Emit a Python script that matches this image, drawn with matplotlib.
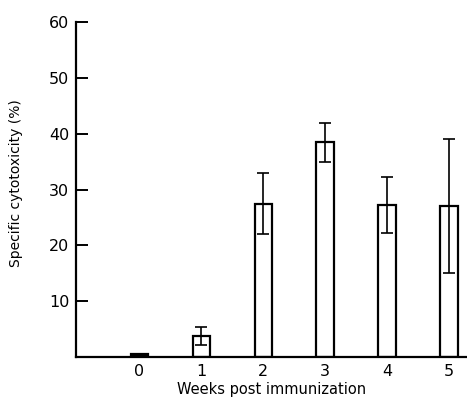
import matplotlib.pyplot as plt

weeks = [0, 1, 2, 3, 4, 5]
cytotoxicity = [0.5, 3.8, 27.5, 38.5, 27.2, 27.1]
errors = [0.0, 1.6, 5.5, 3.5, 5.0, 12.0]
ytick_values = [10, 20, 30, 40, 50, 60]

plt.rcParams["font.family"] = ["DejaVu Sans"]

fig = plt.figure(figsize=(4.67, 4.03), dpi=100)
ax = fig.add_axes([0.163, 0.114, 0.837, 0.831])

# the week-0 bar is so small it prints as a solid blob
fills = ["black"] + ["white"] * (len(weeks) - 1)
ax.bar(weeks, cytotoxicity, width=0.28, color=fills,
       edgecolor="black", linewidth=1.6, zorder=2)
ax.errorbar(weeks[1:], cytotoxicity[1:], yerr=errors[1:], fmt="none",
            ecolor="black", elinewidth=1.2, capsize=4.3, capthick=1.2,
            zorder=3)

ax.set_xlim(-1.02, 5.29)
ax.set_ylim(0, 60)

for side in ["top", "right"]:
    ax.spines[side].set_visible(False)
ax.spines["left"].set_linewidth(1.6)
ax.spines["bottom"].set_linewidth(1.6)

ax.set_yticks(ytick_values)
ax.set_yticklabels([str(v) for v in ytick_values], fontsize=11.5)
ax.tick_params(axis="y", direction="in", length=8.5, width=1.4, pad=5)
ax.set_xticks(weeks)
ax.set_xticklabels([str(w) for w in weeks], fontsize=11.5)
ax.tick_params(axis="x", length=0, pad=5)

ax.set_xlabel("Weeks post immunization", fontsize=10.5, labelpad=2)
ax.set_ylabel("Specific cytotoxicity (%)", fontsize=10)
ax.yaxis.set_label_coords(-0.136, 0.52)

fig.savefig("out.png", dpi=100)
